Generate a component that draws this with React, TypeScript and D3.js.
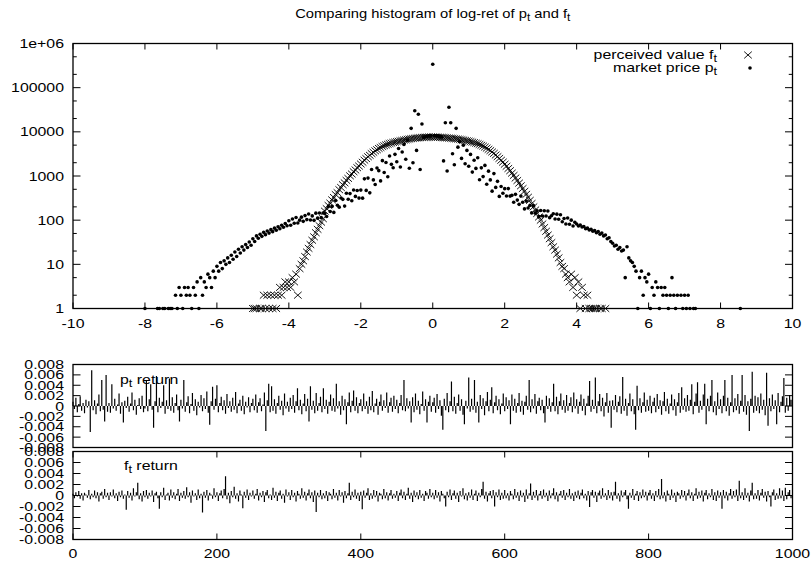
import React, { useEffect, useRef } from 'react';
import * as d3 from 'd3';

const WIDTH = 812;
const HEIGHT = 568;

// histogram of log-returns: counts per bin
const histBinWidth = 0.05;
const pHistFirstBin = -8.0;
const fHistFirstBin = -5.0;

// market price p_t (dots), bins -8.00 .. 8.55
const pHistCounts = [
    1, 0, 0, 0, 0, 0, 0, 1, 1, 0, 1, 1, 0, 1, 1, 1, 0, 2, 1, 3,
    2, 1, 3, 2, 3, 2, 1, 3, 2, 4, 1, 5, 2, 4, 3, 6, 5, 3, 7, 5,
    9, 7, 11, 8, 12, 10, 14, 11, 16, 13, 19, 15, 22, 18, 25, 21, 28, 24, 32, 27,
    38, 33, 44, 39, 48, 43, 53, 47, 57, 51, 61, 55, 66, 59, 71, 64, 77, 69, 84, 75,
    97, 77, 106, 85, 115, 86, 100, 117, 94, 127, 103, 138, 101, 125, 99, 144, 111, 145, 114, 145,
    141, 121, 203, 157, 205, 150, 278, 218, 197, 317, 296, 208, 407, 297, 400, 275, 483, 345, 471, 316,
    480, 315, 862, 472, 897, 415, 1402, 815, 643, 1519, 1320, 774, 2224, 1200, 2025, 962, 2835, 1836, 1540, 3094,
    2100, 4200, 1600, 3500, 5200, 2400, 6500, 1500, 12000, 2000, 30000, 3800, 25000, 1400, 15000, 7500, 7800, 8000, 8100, 8200,
    340000, 8200, 8100, 8000, 7900, 7700, 2200, 16000, 1300, 36000, 16000, 3200, 1800, 12000, 4500, 6000, 2500, 5000, 1900, 3800,
    1666, 3080, 1224, 2268, 1488, 2592, 825, 1529, 968, 1740, 651, 1287, 815, 454, 1133, 552, 756, 345, 578, 408,
    517, 352, 519, 351, 365, 255, 384, 285, 228, 351, 255, 180, 270, 189, 215, 146, 213, 144, 163, 120,
    165, 124, 163, 124, 161, 114, 126, 140, 106, 137, 105, 133, 92, 109, 82, 112, 81, 100, 74, 90,
    82, 74, 78, 70, 72, 64, 66, 60, 62, 56, 58, 52, 55, 48, 51, 44, 46, 38, 40, 33,
    30, 26, 27, 22, 24, 20, 21, 5, 25, 14, 12, 11, 9, 7, 1, 5, 7, 2, 5, 4,
    6, 1, 3, 2, 4, 3, 1, 3, 2, 3, 2, 1, 2, 5, 2, 1, 2, 0, 2, 1,
    2, 1, 2, 1, 0, 1, 1, 0, 0, 0, 0, 0, 0, 0, 0, 0, 0, 0, 0, 0,
    0, 0, 0, 0, 0, 0, 0, 0, 0, 0, 0, 1,
];

// perceived value f_t (crosses), bins -5.00 .. 4.80
const fHistCounts = [
    1, 1, 1, 0, 1, 1, 2, 1, 2, 1, 2, 1, 2, 1, 2, 3, 2, 3, 4, 3,
    4, 3, 5, 4, 6, 2, 8, 10, 12, 15, 19, 23, 28, 35, 42, 52, 62, 75, 90, 108,
    160, 182, 215, 243, 288, 326, 380, 420, 490, 548, 635, 700, 795, 880, 1010, 1110, 1250, 1370, 1540, 1680,
    1870, 2050, 2280, 2480, 2730, 2940, 3210, 3440, 3710, 3940, 4210, 4410, 4650, 4840, 5060, 5240, 5430, 5570, 5740, 5860,
    6010, 6120, 6270, 6380, 6530, 6630, 6770, 6870, 7000, 7080, 7190, 7250, 7340, 7390, 7470, 7500, 7560, 7570, 7610, 7600,
    7620, 7600, 7580, 7560, 7500, 7480, 7420, 7350, 7300, 7230, 7170, 7100, 7010, 6920, 6850, 6740, 6630, 6520, 6400, 6270,
    6150, 6000, 5850, 5700, 5520, 5380, 5180, 4970, 4760, 4520, 4280, 4010, 3760, 3500, 3250, 2990, 2740, 2500, 2270, 2060,
    1850, 1660, 1480, 1320, 1160, 1030, 900, 790, 690, 600, 520, 450, 385, 330, 280, 238, 200, 170, 142, 118,
    100, 82, 68, 56, 46, 38, 31, 25, 21, 17, 14, 11, 9, 8, 6, 5, 4, 6, 3, 5,
    2, 4, 1, 3, 2, 1, 2, 1, 1, 1, 1, 1, 0, 1, 1, 0, 1,
];

const histXTicks = [-10, -8, -6, -4, -2, 0, 2, 4, 6, 8, 10];
const histYTicks = [1, 10, 100, 1000, 10000, 100000, 1000000];
const histYTickLabels = ['1', '10', '100', '1000', '10000', '100000', '1e+06'];
const histYMinorFactors = [2, 5];

// return series, in units of 1e-3, one value every 2 steps
const timeStep = 2;
const timeTicks = [0, 200, 400, 600, 800, 1000];
const retTicks = [-0.008, -0.006, -0.004, -0.002, 0, 0.002, 0.004, 0.006, 0.008];
const retTickLabels = ['-0.008', '-0.006', '-0.004', '-0.002', '0', '0.002', '0.004', '0.006', '0.008'];

const pReturnMilli = [
    0.8, -0.6, 1.6, -1.2, 0.4, 1.9, -0.9, 0.6, -1.4, 1.2, -0.3, 0.9, -5.0, 6.9, -0.8, 1.1, -1.6, 0.5, 2.2, -1.0, 5.0, -0.7, -3.0, 6.0, -1.1,
    0.6, -1.3, 4.2, -0.5, 1.4, -0.9, 0.3, 2.4, -1.5, 0.7, -3.2, 1.0, -0.4, 1.8, -1.1, 0.5, 2.6, -0.8, 1.2, -1.7, 0.2, 1.5, -0.6, 2.0, -1.2,
    -0.5, 5.0, -1.0, 1.3, 4.2, -0.7, -4.2, 0.9, 5.8, -1.2, 1.6, -0.4, 0.8, 4.0, -1.5, 1.1, -0.6, 5.3, -0.9, 1.7, -1.3, 0.6, 2.2, -0.8, -3.0,
    1.2, -0.5, 5.0, -1.1, 0.7, 1.9, -1.4, 0.4, 2.5, -0.9, 1.3, -1.8, 0.8, -0.3, 2.1, -1.0, 1.5, -0.6, 2.8, -1.3, -3.6, 0.9, 3.7, -0.7, 1.4,
    4.0, -1.2, 0.6, 1.8, -0.8, 1.1, -1.5, 2.3, -0.4, 0.9, -1.1, 1.6, -0.7, 2.7, -1.4, 0.5, 1.2, -0.9, 2.0, -1.6, 0.8, -0.3, 1.7, -1.2, 0.6,
    1.4, -0.8, 2.2, -1.3, 0.7, 1.5, -1.0, 0.3, 2.6, -4.8, 1.1, 4.3, -1.2, 3.8, -0.9, 1.3, -1.5, 0.6, 2.0, -0.7, 1.0, -1.8, 2.4, -0.5, 0.8,
    -1.1, 1.6, -0.6, 2.1, -1.3, 0.9, 3.4, -0.8, 1.2, -1.6, 0.5, 2.3, -1.0, 1.4, -3.0, 3.8, -0.7, 1.0, -1.4, 2.5, -0.9, 0.6, 1.8, -1.2, 3.4,
    -0.6, 1.2, -1.5, 0.8, 2.2, -0.9, 1.5, -1.1, 4.3, -0.5, 0.9, -1.7, 2.0, -0.8, 1.3, -3.5, 0.7, 2.6, -1.2, 1.0, 3.0, -0.9, 1.7, -1.4, 0.6,
    1.3, -1.0, 2.4, -0.6, 0.9, -1.5, 1.8, -0.8, 2.9, -1.2, 0.5, 1.4, -1.7, 0.8, 2.2, -0.9, 1.1, -0.4, 2.6, -1.3, 0.7, 1.6, -1.1, 2.0, -0.6,
    1.2, -1.4, 0.6, 2.1, -0.8, 5.0, -1.0, 1.5, -0.5, 0.9, -3.2, 1.7, -1.2, 2.4, -0.7, 1.0, -1.6, 0.4, 2.8, -0.9, 1.3, -3.2, 0.8, 2.0, -1.1,
    0.7, 1.6, -1.3, 2.3, -0.6, 1.1, -1.9, -4.6, 1.4, -0.8, 2.5, -1.2, 0.9, 4.7, -1.0, 1.8, -1.5, 0.6, 2.2, -0.9, 1.3, -1.7, -3.5, 1.0, -0.5,
    5.5, -1.1, 1.4, -0.7, 5.0, -1.3, 0.8, -3.2, 2.1, -0.6, 1.5, -1.8, 0.9, 2.7, -1.0, 1.2, 3.6, -1.4, 0.7, 2.0, -0.8, 1.3, -1.6, 0.5, 2.4,
    -1.0, 1.7, -0.6, 1.1, -3.5, 2.2, -0.9, 1.4, -1.3, 0.6, 2.5, -1.1, 1.0, -1.7, 0.8, 2.0, -0.7, 5.0, -1.2, 1.3, -0.5, 2.3, -1.5, 0.9, 1.6,
    -0.8, 1.2, -1.4, -3.2, 2.0, -0.6, 1.5, -1.1, 0.7, 4.3, -1.0, 1.8, -1.6, 0.9, 2.4, -0.7, 1.1, -1.3, 2.1, -0.9, 0.6, 1.7, -1.2, 2.6, -0.5,
    1.3, -1.5, 0.8, 2.2, -0.9, 1.4, -1.8, 0.5, 2.0, 4.8, -1.1, 1.2, -0.6, 5.5, -1.4, 0.9, 2.3, -1.0, 1.6, -2.0, 0.7, 2.5, -1.3, 1.0, -4.2,
    1.1, -0.7, 2.1, -1.2, 0.8, 1.9, -1.5, 5.6, -0.9, 1.4, -1.9, 0.6, 2.4, -1.0, 1.3, -1.6, -4.6, 3.9, -0.8, 1.5, -1.3, 0.7, 2.6, -1.1, 1.2,
    -0.9, 2.0, -1.4, 0.8, 1.6, -1.2, 2.3, -0.6, 1.1, -1.7, 0.9, 2.7, -1.0, 1.4, -1.5, 0.5, 2.2, -0.8, 1.3, -1.9, 0.7, 2.5, -1.3, 3.6, -0.7,
    1.5, -1.1, 2.1, -0.9, 1.2, 4.2, -1.6, 0.8, 2.4, 4.6, -1.3, 1.0, -0.7, 2.2, 4.3, -3.5, 1.4, -1.0, 2.0, 5.0, -1.2, 0.9, -1.8, 2.6, -0.6,
    1.3, -1.4, 2.0, 5.0, -1.0, 1.6, -1.9, 0.7, 6.0, -1.2, 1.5, -0.8, 2.3, -1.5, 1.0, 6.0, -1.1, 2.1, -1.7, 0.9, -4.8, 1.4, 6.6, -1.3, 2.0,
    -0.9, 1.7, -1.4, 2.4, -0.7, 1.2, -1.8, 6.4, -3.8, 1.5, -1.0, 2.2, -0.6, 1.1, -3.5, 2.5, -1.2, 0.8, 1.9, 5.4, -1.3, 1.6, -0.9, 2.1, 1.2,
];

const fReturnMilli = [
    0.3, -0.5, 0.6, -0.2, 0.8, -0.6, 0.4, -0.9, 0.5, 0.2, -0.4, 1.0, -0.7, 0.3, -0.3, 0.9, -0.5, 0.6, -1.1, 0.4, 0.7, -0.6, 1.2, -0.3, 0.5,
    -0.8, 0.6, -0.2, 1.1, -0.5, 0.4, -1.0, 0.7, -0.3, 0.9, -0.6, 0.2, -2.6, 0.8, -0.4, 0.5, -0.9, 1.3, -0.2, 0.6, 2.3, -0.7, 0.4, -1.1, 0.8,
    -0.3, 1.0, -0.6, 0.5, -0.2, 0.9, -1.2, 0.4, 0.7, -0.5, -2.4, 0.6, -0.3, 1.4, -0.8, 0.2, 0.5, -0.9, 1.1, -0.4, 0.6, -0.7, 0.3, 1.2, -1.0,
    0.5, -0.4, 0.8, -0.6, 1.5, -0.3, 0.6, -1.3, 0.9, -0.2, 0.4, -0.8, 1.1, -0.5, 0.3, -3.1, 0.7, -0.4, 1.0, -0.9, 0.5, 0.2, -0.6, 1.3, -0.3,
    0.6, -1.0, 0.4, 0.9, -0.5, 1.2, 3.5, -0.7, 0.5, -1.4, 0.8, -0.3, 1.6, -0.6, 0.4, -1.1, 0.9, 0.2, -2.3, 0.7, -0.4, 1.1, -0.8, 0.5, -0.2,
    0.9, -0.6, 0.3, 1.2, -0.9, 0.5, -0.3, 0.8, -1.2, 0.6, 1.0, -0.5, 0.2, -0.8, 1.4, -0.4, 0.7, -1.0, 0.5, 0.9, -0.6, 0.3, -1.3, 1.1, -0.2,
    0.6, -0.8, 1.0, -0.3, 0.5, -1.1, 0.8, 0.3, -0.6, 1.3, -0.4, 0.7, -0.9, 0.4, 1.1, -0.5, 0.6, -1.2, 0.9, -3.0, 0.5, -0.3, 1.0, -0.7, 0.4,
    -0.5, 0.8, -1.0, 0.6, 0.3, -0.7, 1.2, -0.4, 0.5, -0.9, 1.0, -0.2, 0.6, -1.3, 0.8, -0.5, 0.4, 2.3, -0.8, 0.7, -0.3, 1.1, -0.6, 0.5, -1.0,
    0.7, -2.5, 0.9, -0.4, 0.5, 1.3, -0.8, 0.4, -0.6, 1.0, -0.3, 0.8, -1.1, 0.5, 0.3, -0.7, 1.2, -0.5, 0.6, -0.9, 0.4, 1.0, -0.6, 0.3, -0.4,
    0.8, -1.0, 0.5, 1.1, -0.5, 0.7, -0.8, 0.3, 1.4, -0.6, 0.5, -1.2, 0.9, -0.3, 0.6, -0.7, 1.0, -0.4, 0.3, -1.0, 0.8, 0.5, -0.6, 1.2, -0.3,
    0.5, -0.7, 1.0, -0.4, 0.6, -1.1, 0.8, 0.3, -0.5, -2.0, 0.7, -0.3, 1.1, -0.8, 0.4, 0.9, -0.6, 0.5, -1.2, 0.8, -0.2, 1.3, -0.7, 0.4, -0.9,
    0.6, -0.4, 1.1, -0.8, 0.3, 0.9, -1.0, 0.5, -0.3, 1.2, 2.5, -0.6, 0.7, -1.1, 0.4, 0.8, -0.5, 1.0, -2.0, 0.6, -0.3, 1.1, -0.8, 0.5, -0.6,
    1.0, -0.5, 0.4, -0.9, 0.8, 0.3, -0.7, 1.2, -0.4, 0.6, -1.0, 0.9, -0.3, 0.5, -1.2, 1.1, -0.6, 0.4, 2.2, -0.8, 0.7, -0.4, 1.0, -0.9, 0.3,
    0.8, -0.6, 1.1, -0.3, 0.5, -1.0, 0.9, -0.5, 0.4, 1.3, -0.7, 0.6, -1.1, 0.3, 0.8, -0.4, 1.0, -0.8, 0.5, -0.3, 1.2, -0.6, 0.4, -1.0, 0.7,
    -0.4, 0.9, -0.7, 0.5, 1.1, -0.5, 0.3, -0.9, 0.8, -2.1, 0.6, 1.0, -0.4, 0.7, -1.2, 0.5, 0.9, -0.6, 1.3, -0.3, 0.4, -0.8, 1.0, -0.5, 0.6,
    -0.9, 0.7, 2.5, -0.6, 0.4, -1.1, 0.9, -0.3, 0.6, 1.0, -0.7, -2.4, 0.5, -0.4, 1.2, -0.8, 0.3, 0.8, -1.0, 0.6, -0.5, 1.1, -0.3, 0.7, -0.9,
    0.5, 1.0, -0.6, 0.4, -1.0, 0.8, -0.3, 1.2, -0.7, 3.0, -0.5, 0.6, -1.1, 0.9, 0.3, -0.8, 1.1, -0.4, 0.5, -1.2, 0.7, 0.4, -0.6, 1.0, -0.3,
    0.8, -0.9, 0.4, 1.1, -0.5, 0.6, -1.0, 0.3, 1.3, -0.6, 0.7, -0.4, 0.9, -1.1, 0.5, 1.0, -0.7, 0.4, -0.3, 1.2, -0.8, 0.6, -1.0, 0.9, -0.4,
    0.6, -2.4, 1.0, -0.5, 0.7, -0.9, 0.4, 1.2, -0.6, 0.8, -0.3, 1.1, -1.0, 2.7, -0.5, 0.6, -0.8, 1.3, -0.4, 0.5, -1.1, 0.9, 2.3, -0.7, 0.4,
    -0.6, 1.0, -0.9, 0.5, 1.2, -0.4, 0.7, -1.1, 0.8, -0.3, -2.0, 0.6, 1.1, -0.8, 0.4, -0.6, 1.3, -0.5, 0.9, -1.0, 1.4, -0.7, 0.6, 1.0, -0.5,
];

// gnuplot-like text: Arial-ish glyphs, a bit wider than normal
const FONT = "'Liberation Sans', Arial, sans-serif";
const FONT_SIZE = 12.7;
const TEXT_SX = 1.25;

type Part = [string, boolean];
type Sel = d3.Selection<any, unknown, null, undefined>;

const addText = (g: Sel, x: number, y: number, parts: Part[] | string, anchor = 'middle', sx = TEXT_SX) => {
    const t = g
        .append('text')
        .attr('transform', `translate(${x},${y}) scale(${sx},1)`)
        .attr('text-anchor', anchor)
        .attr('font-family', FONT)
        .attr('font-size', FONT_SIZE)
        .attr('fill', '#000')
        .style('white-space', 'pre');
    const list: Part[] = typeof parts === 'string' ? [[parts, false]] : parts;
    let shift = 0;
    list.forEach(([s, sub]) => {
        const target = sub ? 3 : 0;
        t.append('tspan')
            .attr('dy', target - shift)
            .attr('font-size', sub ? FONT_SIZE * 0.8 : FONT_SIZE)
            .text(s);
        shift = target;
    });
};

const frame = (g: Sel, x0: number, x1: number, y0: number, y1: number) => {
    g.append('rect')
        .attr('x', x0)
        .attr('y', y0)
        .attr('width', x1 - x0)
        .attr('height', y1 - y0)
        .attr('fill', 'none')
        .attr('stroke', '#000')
        .attr('stroke-width', 1.3);
};

const tick = (g: Sel, x1: number, y1: number, x2: number, y2: number) => {
    g.append('line')
        .attr('x1', x1)
        .attr('y1', y1)
        .attr('x2', x2)
        .attr('y2', y2)
        .attr('stroke', '#000')
        .attr('stroke-width', 1);
};

const App: React.FC = () => {
    const ref = useRef<SVGSVGElement>(null);

    useEffect(() => {
        const svg = d3.select(ref.current);
        svg.selectAll('*').remove();
        svg.append('rect').attr('width', WIDTH).attr('height', HEIGHT).attr('fill', '#fff');

        const left = 73;
        const right = 792.5;
        const majorV = 6; // vertical tick length
        const majorH = 7.5; // horizontal tick length

        // ---------- top: histogram ----------
        const top = svg.append('g');
        const xHist = d3.scaleLinear().domain([-10, 10]).range([left, right]);
        const yHist = d3.scaleLog().domain([1, 1e6]).range([308.5, 43.5]);
        const [hy1, hy0] = yHist.range();

        histXTicks.forEach((v) => {
            const px = xHist(v);
            tick(top, px, hy1, px, hy1 - majorV);
            tick(top, px, hy0, px, hy0 + majorV);
            addText(top, px, hy1 + 19, String(v));
        });

        histYTicks.forEach((v, i) => {
            const py = yHist(v);
            tick(top, left, py, left + majorH, py);
            tick(top, right, py, right - majorH, py);
            addText(top, 64, py + 4.5, histYTickLabels[i], 'end');
            if (v < 1e6) {
                histYMinorFactors.forEach((m) => {
                    const my = yHist(v * m);
                    tick(top, left, my, left + majorH / 2, my);
                    tick(top, right, my, right - majorH / 2, my);
                });
            }
        });

        frame(top, left, right, hy0, hy1);

        // perceived value f_t: crosses
        const crossPath = 'M-3.8,-3.4L3.8,3.4M-3.8,3.4L3.8,-3.4';
        top.append('g')
            .selectAll('path')
            .data(fHistCounts.map((c, i) => ({ x: fHistFirstBin + i * histBinWidth, c })).filter((d) => d.c > 0))
            .enter()
            .append('path')
            .attr('d', crossPath)
            .attr('transform', (d) => `translate(${xHist(d.x)},${yHist(d.c)})`)
            .attr('fill', 'none')
            .attr('stroke', '#000')
            .attr('stroke-width', 0.9);

        // market price p_t: dots
        top.append('g')
            .selectAll('circle')
            .data(pHistCounts.map((c, i) => ({ x: pHistFirstBin + i * histBinWidth, c })).filter((d) => d.c > 0))
            .enter()
            .append('circle')
            .attr('cx', (d) => xHist(d.x))
            .attr('cy', (d) => yHist(d.c))
            .attr('r', 1.8)
            .attr('fill', '#000');

        // legend
        addText(top, 717, 59, [['perceived value f', false], ['t', true]], 'end');
        addText(top, 717, 72, [['market price p', false], ['t', true]], 'end');
        top.append('path')
            .attr('d', crossPath)
            .attr('transform', 'translate(748,55)')
            .attr('fill', 'none')
            .attr('stroke', '#000')
            .attr('stroke-width', 0.9);
        top.append('circle').attr('cx', 750).attr('cy', 68).attr('r', 1.8).attr('fill', '#000');

        // title
        addText(
            svg,
            (left + right) / 2,
            18,
            [
                ['Comparing histogram of log-ret of p', false],
                ['t', true],
                [' and f', false],
                ['t', true],
            ],
            'middle',
            1.16
        );

        // ---------- bottom: return series ----------
        const xTime = d3.scaleLinear().domain([0, 1000]).range([left, right]);
        const panels = [
            { values: pReturnMilli, y0: 364.5, y1: 447.5, name: 'p', labelX: 120, labelY: 384, xTicks: false },
            { values: fReturnMilli, y0: 451.5, y1: 539.5, name: 'f', labelX: 124, labelY: 469.5, xTicks: true },
        ];

        panels.forEach((p) => {
            const g = svg.append('g');
            const yRet = d3.scaleLinear().domain([-0.008, 0.008]).range([p.y1, p.y0]);

            retTicks.forEach((v, i) => {
                const py = yRet(v);
                tick(g, left, py, left + majorH, py);
                tick(g, right, py, right - majorH, py);
                addText(g, 64, py + 4.5, retTickLabels[i], 'end');
            });

            if (p.xTicks) {
                timeTicks.forEach((t) => {
                    const px = xTime(t);
                    tick(g, px, p.y1, px, p.y1 - majorV);
                    tick(g, px, p.y0, px, p.y0 + majorV);
                    addText(g, px, p.y1 + 18, String(t));
                });
            }

            // each return as a thin spike from the zero line
            const y0 = yRet(0);
            g.append('path')
                .attr(
                    'd',
                    p.values
                        .map((v, i) => {
                            const px = xTime(i * timeStep);
                            return `M${px},${y0}L${px},${yRet(v / 1000)}`;
                        })
                        .join('')
                )
                .attr('fill', 'none')
                .attr('stroke', '#000')
                .attr('stroke-width', 1.2);

            frame(g, left, right, p.y0, p.y1);

            addText(g, p.labelX, p.labelY, [[p.name, false], ['t', true], [' return', false]], 'start');
        });
    }, []);

    return (
        <svg
            ref={ref}
            width={WIDTH}
            height={HEIGHT}
            style={{ position: 'absolute', left: 0, top: 0, background: '#fff' }}
        />
    );
};

export default App;
